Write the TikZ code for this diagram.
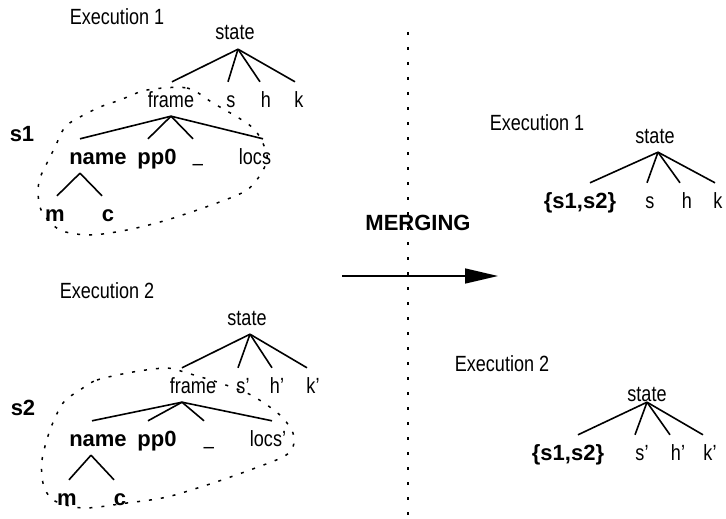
\documentclass[tikz,border=0pt]{standalone}
\usepackage{fontspec}
\setmainfont{Liberation Sans}
\newfontfamily\narrowfont{Liberation Sans}[FakeStretch=0.82]
\usetikzlibrary{arrows.meta,calc}
\tikzset{
  lab/.style={font=\narrowfont\fontsize{22}{26}\selectfont, text height=16pt, text depth=0pt, inner ysep=9pt, inner xsep=1pt},
  blab/.style={lab, font=\bfseries\fontsize{22}{26}\selectfont},
  edge/.style={line width=1.6pt},
  group/.style={line width=1.5pt, dash pattern=on 3pt off 9pt},
  sepline/.style={line width=1.5pt, dash pattern=on 3pt off 12pt}
}
\begin{document}
\begin{tikzpicture}[x=1pt,y=-1pt]
  \useasboundingbox (0,0) rectangle (726,519);

  % Execution 1, before merging
  \node[lab] (exA) at (117,17) {Execution 1};
  \node[lab] (stateA) at (235,32) {state};
  \node[lab] (frameA) at (171,99) {frame};
  \node[lab] (sA) at (231,99) {s};
  \node[lab] (hA) at (266,99) {h};
  \node[lab] (kA) at (299,99) {k};
  \node[blab] (grpA) at (22,133) {s1};
  \node[blab] (nameA) at (98,156) {name};
  \node[blab] (ppA) at (157,156) {pp0};
  \node[lab] (usA) at (198,156) {\raisebox{2pt}{\_}};
  \node[lab] (locsA) at (255,156) {locs};
  \node[blab] (mA) at (55,213) {m};
  \node[blab] (cA) at (108,213) {c};
  \foreach \c/\d in {frameA/1, sA/-3, hA/-6, kA/-4}
    \draw[edge] ([shift={(3,0)}]stateA.south) -- ([shift={(\d,0)}]\c.north);
  \foreach \c/\d in {nameA/-18, ppA/-9, usA/-5, locsA/8}
    \draw[edge] (frameA.south) -- ([shift={(\d,0)}]\c.north);
  \foreach \c/\d in {mA/2, cA/-6}
    \draw[edge] ([shift={(-18,0)}]nameA.south) -- ([shift={(\d,0)}]\c.north);
  \draw[group] plot[smooth cycle] coordinates {(147,90) (187,88) (213,103) (253,128)
    (267,155) (262,172) (247,190) (217,203) (167,220) (127,230) (90,235) (60,230)
    (42,212) (38,193) (40,178) (47,163) (55,147) (65,127) (80,117) (100,107) (120,100)};

  % Execution 2, before merging
  \node[lab] (exB) at (107,290) {Execution 2};
  \node[lab] (stateB) at (247,317) {state};
  \node[lab] (frameB) at (193,385) {frame};
  \node[lab] (sB) at (243,385) {s’};
  \node[lab] (hB) at (277,385) {h’};
  \node[lab] (kB) at (313,385) {k’};
  \node[blab] (grpB) at (23,407) {s2};
  \node[blab] (nameB) at (98,438) {name};
  \node[blab] (ppB) at (157,438) {pp0};
  \node[lab] (usB) at (209,438) {\raisebox{2pt}{\_}};
  \node[lab] (locsB) at (268,438) {locs’};
  \node[blab] (mB) at (67,497) {m};
  \node[blab] (cB) at (120,497) {c};
  \foreach \c/\d in {frameB/-11, sB/-5, hB/-5, kB/-6}
    \draw[edge] ([shift={(3,0)}]stateB.south) -- ([shift={(\d,0)}]\c.north);
  \foreach \c/\d in {nameB/-6, ppB/-9, usB/-5, locsB/4}
    \draw[edge] ([shift={(-11,0)}]frameB.south) -- ([shift={(\d,0)}]\c.north);
  \foreach \c/\d in {mB/2, cB/-6}
    \draw[edge] ([shift={(-7,0)}]nameB.south) -- ([shift={(\d,0)}]\c.north);
  \draw[group] plot[smooth cycle] coordinates {(80,390) (97,380) (133,372) (167,368)
    (187,373) (217,382) (247,393) (267,405) (283,418) (293,433) (293,447) (283,457)
    (250,470) (213,483) (167,497) (127,503) (83,508) (53,500) (43,483) (42,460)
    (50,430) (63,403)};

  % Merging
  \draw[sepline] (408,32) -- (408,519);
  \node[blab] (merge) at (418,222) {MERGING};
  \coordinate (arrS) at (342,276);
  \coordinate (arrE) at (498,276);
  \draw[edge,-{Triangle[length=33pt,width=15pt]}] (arrS) -- (arrE);

  % Execution 1, after merging
  \node[lab] (exC) at (537,122) {Execution 1};
  \node[lab] (stateC) at (655,135) {state};
  \node[blab] (setC) at (580,200) {\{s1,s2\}};
  \node[lab] (sC) at (650,200) {s};
  \node[lab] (hC) at (687,200) {h};
  \node[lab] (kC) at (718,200) {k};
  \foreach \c/\d in {setC/10, sC/-3, hC/-7, kC/-3}
    \draw[edge] ([shift={(3,0)}]stateC.south) -- ([shift={(\d,0)}]\c.north);

  % Execution 2, after merging
  \node[lab] (exD) at (502,363) {Execution 2};
  \node[lab] (stateD) at (647,393) {state};
  \node[blab] (setD) at (568,452) {\{s1,s2\}};
  \node[lab] (sD) at (642,452) {s’};
  \node[lab] (hD) at (678,452) {h’};
  \node[lab] (kD) at (710,452) {k’};
  \foreach \c/\d in {setD/10, sD/-7, hD/-8, kD/-7}
    \draw[edge] ([shift={(0,-8)}]stateD.south) -- ([shift={(\d,0)}]\c.north);
\end{tikzpicture}
\end{document}
